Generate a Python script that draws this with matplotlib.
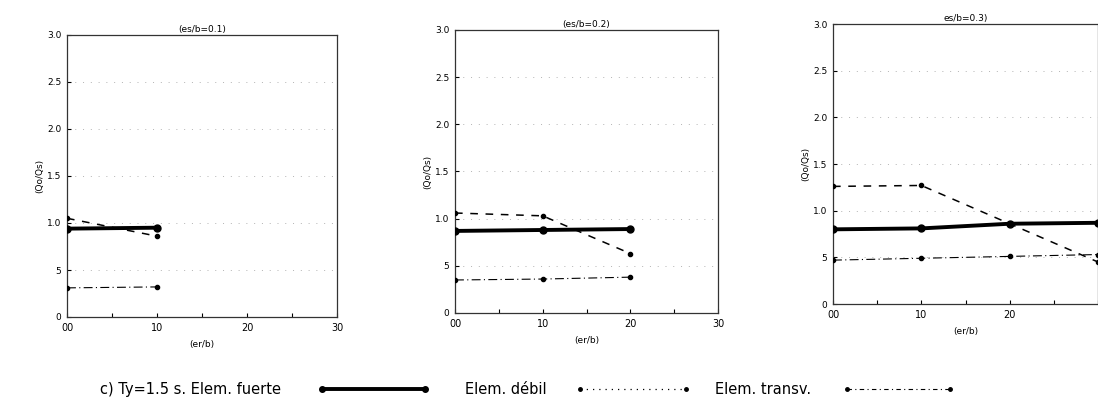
import matplotlib
matplotlib.use("Agg")
import matplotlib.pyplot as plt
from matplotlib.lines import Line2D

plt.rcParams['font.family'] = ['DejaVu Sans']

# ---- data ----
titles = ["(es/b=0.1)", "(es/b=0.2)", "es/b=0.3)"]
x_vals = [[0, 10], [0, 10, 20], [0, 10, 20, 30]]
fuerte = [[0.94, 0.95], [0.87, 0.88, 0.89], [0.80, 0.81, 0.86, 0.87]]
debil = [[1.05, 0.86], [1.06, 1.03, 0.63], [1.26, 1.27, 0.86, 0.45]]
transv = [[0.31, 0.32], [0.35, 0.36, 0.38], [0.47, 0.49, 0.51, 0.53]]
x_ticks = [0, 10, 20, 30]
x_ticklabels = ["00", "10", "20", "30"]
y_ticks = [0, 0.5, 1.0, 1.5, 2.0, 2.5, 3.0]
y_ticklabels = ["0", "5", "1.0", "1.5", "2.0", "2.5", "3.0"]
legend_labels = ["c) Ty=1.5 s. Elem. fuerte", "Elem. débil", "Elem. transv."]

W, H = 1098, 411
fig = plt.figure(figsize=(W / 100, H / 100), dpi=100)

# axes boxes in pixels: left, right, top, bottom
boxes = [(67, 337, 35, 317), (455, 718, 30, 313), (833, 1098, 24, 304)]

for i, (l, r, t, b) in enumerate(boxes):
    ax = fig.add_axes([l / W, 1 - b / H, (r - l) / W, (b - t) / H])
    ax.set_xlim(0, 30)
    ax.set_ylim(0, 3.0)
    for yv in y_ticks[1:-1]:
        ax.axhline(yv, color='0.7', lw=0.7, ls=(0, (1, 7)), zorder=0)
    ax.plot(x_vals[i], fuerte[i], color='black', lw=2.8, marker='o', ms=5, zorder=4)
    ax.plot(x_vals[i], debil[i], color='black', lw=1.1, ls=(0, (5, 5)), marker='o', ms=3, zorder=3)
    ax.plot(x_vals[i], transv[i], color='black', lw=0.8, ls=(0, (8, 3, 1, 3)), marker='o', ms=3, zorder=3)
    ax.set_xticks(x_ticks)
    labels = list(x_ticklabels)
    if i == 2:
        labels[-1] = ""  # cut off by the page edge in the original scan
    ax.set_xticklabels(labels, fontsize=7)
    ax.set_xticks([5, 15, 25], minor=True)
    ax.set_yticks(y_ticks)
    ax.set_yticklabels(y_ticklabels, fontsize=6.5)
    ax.tick_params(direction='in', length=3, width=0.8, pad=4)
    ax.tick_params(which='minor', direction='in', length=3, width=0.8)
    ax.set_title(titles[i], fontsize=6.5, pad=2)
    ax.set_xlabel("(er/b)", fontsize=6.5, labelpad=5)
    ax.set_ylabel("(Qo/Qs)", fontsize=6.5, labelpad=2)
    for s in ax.spines.values():
        s.set_linewidth(0.9)
        s.set_color('0.2')

# ---- legend row (drawn manually: text, then sample line with end markers) ----
legend_styles = [
    dict(lw=2.8, ls='-', ms=4),
    dict(lw=0.9, ls=(0, (1, 4)), ms=2.5),
    dict(lw=0.8, ls=(0, (4, 3, 1, 3)), ms=2.5),
]
text_x = [100, 465, 715]
line_x = [(322, 425), (580, 686), (847, 950)]
y_leg = 1 - 389 / H
for lab, tx, (x0, x1), st in zip(legend_labels, text_x, line_x, legend_styles):
    fig.text(tx / W, y_leg, lab, fontsize=10.5, ha='left', va='center')
    fig.add_artist(Line2D([x0 / W, x1 / W], [y_leg, y_leg], transform=fig.transFigure,
                          color='black', lw=st['lw'], ls=st['ls'], marker='o', ms=st['ms']))

fig.savefig("out.png", dpi=100)
